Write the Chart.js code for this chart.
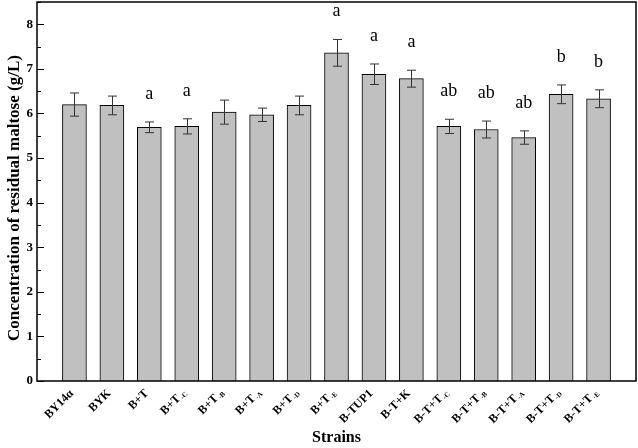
<!DOCTYPE html>
<html>
<head>
<meta charset="utf-8">
<script src="https://cdn.jsdelivr.net/npm/chart.js@4"></script>
<style>
  html, body { margin: 0; padding: 0; background: #fff; }
  #wrap { width: 638px; height: 448px; }
</style>
</head>
<body>
<div id="wrap"><canvas id="maltose-chart" width="638" height="448"></canvas></div>
<script>
// strain names, split in main text and subscript
const strainNames = ['BY14\u03b1', 'BYK', 'B+T', 'B+T', 'B+T', 'B+T', 'B+T', 'B+T', 'B-TUP1', 'B-T+K', 'B-T+T', 'B-T+T', 'B-T+T', 'B-T+T', 'B-T+T'];
const strainSubs = ['', '', '', '-C', '-B', '-A', '-D', '-E', '', '', '-C', '-B', '-A', '-D', '-E'];
const maltose = [6.20, 6.18, 5.69, 5.71, 6.03, 5.97, 6.18, 7.36, 6.88, 6.78, 5.71, 5.64, 5.46, 6.43, 6.33];
const maltoseErr = [0.26, 0.21, 0.12, 0.17, 0.27, 0.15, 0.21, 0.30, 0.23, 0.19, 0.16, 0.19, 0.15, 0.21, 0.20];
const sigLetters = ['', '', 'a', 'a', '', '', '', 'a', 'a', 'a', 'ab', 'ab', 'ab', 'b', 'b'];
const yTicks = [0, 1, 2, 3, 4, 5, 6, 7, 8];

const SERIF = '"Liberation Serif", "Times New Roman", serif';

// one empty slot on each side, like the original
const labels = [''].concat(strainNames.map((n, i) => n + strainSubs[i]), ['']);
const barData = [null].concat(maltose, [null]);

const decorations = {
  id: 'decorations',
  afterDatasetsDraw(chart) {
    const ctx = chart.ctx;
    const area = chart.chartArea;
    const xs = chart.scales.x;
    const ys = chart.scales.y;
    ctx.save();

    // error bars
    ctx.strokeStyle = '#333';
    ctx.lineWidth = 1;
    maltose.forEach((v, i) => {
      const x = Math.round(xs.getPixelForValue(i + 1)) + 0.5;
      const top = ys.getPixelForValue(v + maltoseErr[i]);
      const bot = ys.getPixelForValue(v - maltoseErr[i]);
      ctx.beginPath();
      ctx.moveTo(x, top); ctx.lineTo(x, bot);
      ctx.moveTo(x - 4.5, top); ctx.lineTo(x + 4.5, top);
      ctx.moveTo(x - 4.5, bot); ctx.lineTo(x + 4.5, bot);
      ctx.stroke();
    });

    // significance letters
    ctx.fillStyle = '#000';
    ctx.font = '18px ' + SERIF;
    ctx.textAlign = 'center';
    ctx.textBaseline = 'middle';
    sigLetters.forEach((s, i) => {
      if (!s) return;
      const x = xs.getPixelForValue(i + 1);
      const y = ys.getPixelForValue(maltose[i] + maltoseErr[i]) - 28;
      ctx.fillText(s, x, y);
    });

    // y ticks pointing inward, labels outside
    ctx.strokeStyle = '#000';
    for (let v = 0; v <= 8.5; v += 0.5) {
      const y = Math.round(ys.getPixelForValue(v)) + 0.5;
      const len = (v % 1 === 0) ? 7 : 4;
      ctx.beginPath();
      ctx.moveTo(area.left, y); ctx.lineTo(area.left + len, y);
      ctx.stroke();
    }
    ctx.font = 'bold 13px ' + SERIF;
    ctx.textAlign = 'right';
    yTicks.forEach(v => {
      ctx.fillText(String(v), area.left - 4, ys.getPixelForValue(v));
    });

    // frame
    ctx.lineWidth = 1.5;
    ctx.strokeRect(area.left, area.top, area.right - area.left, area.bottom - area.top);

    // x labels, rotated, with subscripts
    strainNames.forEach((n, i) => {
      const x = xs.getPixelForValue(i + 1);
      ctx.save();
      ctx.translate(x - 2, 391);
      ctx.rotate(-Math.PI / 4);
      ctx.textAlign = 'right';
      ctx.textBaseline = 'middle';
      let w = 0;
      if (strainSubs[i]) {
        ctx.font = 'bold 7px ' + SERIF;
        w = ctx.measureText(strainSubs[i]).width;
        ctx.fillText(strainSubs[i], 0, 3);
      }
      ctx.font = 'bold 12px ' + SERIF;
      ctx.fillText(n, -w - 1, 0);
      ctx.restore();
    });

    // axis titles
    ctx.font = 'bold 16px ' + SERIF;
    ctx.textAlign = 'center';
    ctx.textBaseline = 'middle';
    ctx.fillText('Strains', (area.left + area.right) / 2, 438);
    ctx.save();
    ctx.translate(15, 198);
    ctx.rotate(-Math.PI / 2);
    ctx.font = 'bold 17px ' + SERIF;
    ctx.fillText('Concentration of residual maltose (g/L)', 0, 0);
    ctx.restore();

    ctx.restore();
  }
};

const ctx = document.getElementById('maltose-chart').getContext('2d');
new Chart(ctx, {
  type: 'bar',
  data: {
    labels: labels,
    datasets: [{
      data: barData,
      backgroundColor: '#c0c0c0',
      borderColor: '#000',
      borderWidth: 1,
      barThickness: 24,
    }],
  },
  options: {
    responsive: false,
    animation: false,
    layout: { padding: { top: 2, right: 2, left: 0, bottom: 0 } },
    plugins: {
      legend: { display: false },
      tooltip: { enabled: false },
    },
    scales: {
      x: {
        offset: false,
        grid: { display: false },
        border: { display: false },
        ticks: { display: false },
        afterFit(scale) { scale.height = 67; },
      },
      y: {
        min: 0,
        max: 8.5,
        grid: { display: false },
        border: { display: false },
        ticks: { display: false },
        afterFit(scale) { scale.width = 37; },
      },
    },
  },
  plugins: [decorations],
});
</script>
</body>
</html>
